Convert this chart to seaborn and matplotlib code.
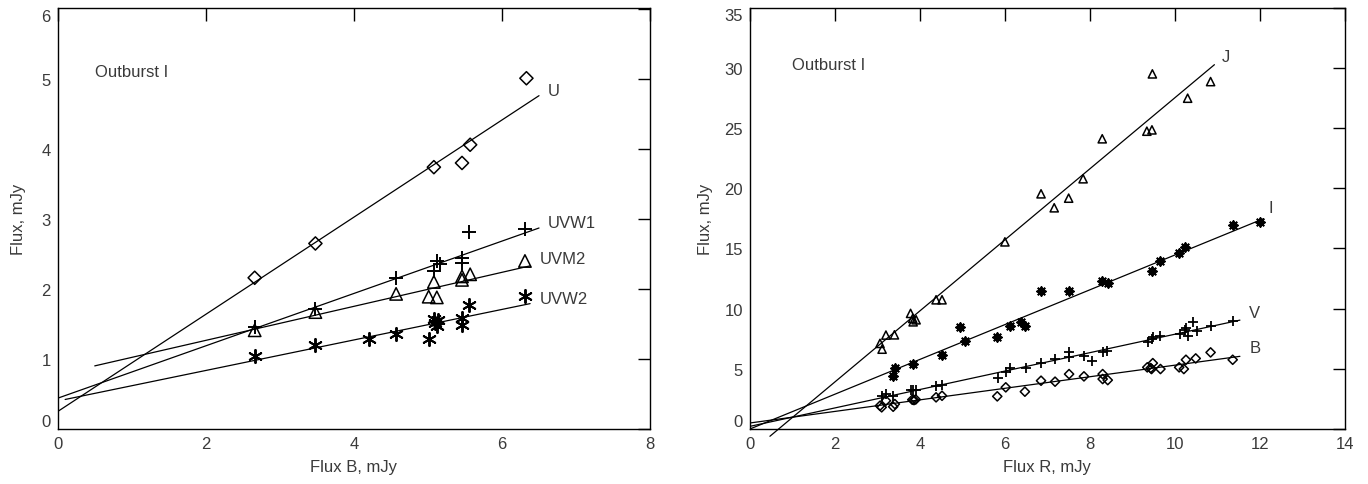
import numpy as np
import pandas as pd
import matplotlib
matplotlib.use("Agg")
import matplotlib.pyplot as plt
import seaborn as sns

# ---------------- data: left panel (vs Flux B) ----------------
u_x = [2.66, 3.48, 5.08, 5.46, 5.57, 6.33]
u_y = [2.16, 2.65, 3.74, 3.80, 4.06, 5.01]
uvw1_x = [2.66, 3.48, 4.57, 5.08, 5.12, 5.16, 5.46, 5.46, 5.56, 6.31]
uvw1_y = [1.46, 1.71, 2.16, 2.26, 2.40, 2.36, 2.44, 2.37, 2.82, 2.85]
uvm2_x = [2.66, 3.48, 4.57, 5.01, 5.08, 5.12, 5.46, 5.46, 5.57, 6.31]
uvm2_y = [1.41, 1.67, 1.93, 1.89, 2.10, 1.88, 2.13, 2.18, 2.21, 2.40]
uvw2_x = [2.66, 3.48, 4.21, 4.57, 5.02, 5.08, 5.10, 5.12, 5.14, 5.46, 5.46, 5.56, 6.31]
uvw2_y = [1.04, 1.20, 1.28, 1.36, 1.28, 1.57, 1.52, 1.47, 1.55, 1.58, 1.49, 1.77, 1.90]

# fitted lines: (x start, x end, intercept, slope)
left_fit_bands = ["U", "UVW1", "UVM2", "UVW2"]
left_fit_x0 = [0.0, 0.0, 0.5, 0.1]
left_fit_x1 = [6.5, 6.5, 6.38, 6.38]
left_fit_a = [0.25, 0.44, 0.78, 0.40]
left_fit_b = [0.694, 0.374, 0.243, 0.218]

# ---------------- data: right panel (vs Flux R) ----------------
j_x = [3.06, 3.11, 3.20, 3.40, 3.78, 3.83, 3.84, 3.91, 4.38, 4.52, 6.00, 6.85, 7.16,
       7.50, 7.84, 8.29, 9.34, 9.46, 9.47, 10.30, 10.84]
j_y = [7.11, 6.63, 7.80, 7.82, 9.60, 9.18, 8.90, 9.07, 10.73, 10.73, 15.54, 19.53, 18.37,
       19.17, 20.78, 24.10, 24.73, 24.84, 29.49, 27.47, 28.85]
i_x = [3.36, 3.41, 3.83, 4.52, 4.94, 5.06, 5.82, 6.12, 6.37, 6.47, 6.85, 7.51, 8.29,
       8.42, 9.45, 9.66, 10.09, 10.23, 11.36, 12.01]
i_y = [4.42, 5.03, 5.39, 6.14, 8.43, 7.33, 7.60, 8.52, 8.90, 8.52, 11.45, 11.45, 12.30,
       12.14, 13.10, 13.99, 14.63, 15.10, 16.90, 17.23]
v_x = [3.10, 3.20, 3.37, 3.78, 3.84, 3.91, 4.38, 4.51, 5.84, 6.02, 6.13, 6.49, 6.85,
       7.18, 7.51, 7.51, 7.86, 8.04, 8.30, 8.41, 9.37, 9.45, 9.48, 9.66, 10.12, 10.24,
       10.27, 10.31, 10.43, 10.51, 10.85, 11.36]
v_y = [2.76, 2.90, 2.71, 3.23, 3.23, 3.23, 3.54, 3.65, 4.26, 4.75, 5.03, 5.03, 5.45,
       5.81, 6.41, 6.00, 6.08, 5.67, 6.41, 6.50, 7.24, 7.46, 7.60, 7.69, 7.88, 8.24,
       8.40, 7.74, 8.85, 8.15, 8.52, 8.93]
b_x = [3.06, 3.10, 3.20, 3.37, 3.41, 3.82, 3.86, 3.90, 4.38, 4.52, 5.82, 6.02, 6.47,
       6.85, 7.18, 7.51, 7.86, 8.30, 8.30, 8.42, 9.35, 9.43, 9.45, 9.48, 9.66, 10.10,
       10.21, 10.26, 10.49, 10.84, 11.36]
b_y = [1.93, 1.80, 2.35, 1.85, 2.07, 2.43, 2.40, 2.45, 2.63, 2.76, 2.71, 3.46, 3.10,
       4.01, 3.93, 4.56, 4.37, 4.56, 4.15, 4.06, 5.12, 5.06, 4.98, 5.47, 4.98, 5.12,
       4.98, 5.75, 5.86, 6.36, 5.75]

right_fit_bands = ["J", "I", "V", "B"]
right_fit_x0 = [0.47, 0.0, 0.0, 0.0]
right_fit_x1 = [10.93, 12.09, 11.53, 11.53]
right_fit_a = [-1.99, 0.0, 0.22, 0.50]
right_fit_b = [2.95, 1.445, 0.765, 0.48]

# ---------------- style ----------------
sns.set_theme(style="white")
plt.rcParams["font.family"] = ["Liberation Sans", "DejaVu Sans"]
TXT = "#3a3a3a"

fig = plt.figure(figsize=(13.68, 4.85), dpi=100)
axL = fig.add_axes([0.0422, 0.1134, 0.4330, 0.8690])
axR = fig.add_axes([0.5482, 0.1134, 0.4349, 0.8690])

asterisk = (6, 2, 0)


def scatter(ax, xs, ys, marker, size, filled=False, lw=1.1):
    df = pd.DataFrame({"x": xs, "y": ys})
    if filled:
        sns.scatterplot(data=df, x="x", y="y", ax=ax, marker=marker, s=size,
                        color="black", linewidth=lw, legend=False, zorder=3)
    else:
        sns.scatterplot(data=df, x="x", y="y", ax=ax, marker=marker, s=size,
                        facecolor="none", edgecolor="black", linewidth=lw,
                        legend=False, zorder=3)


def fitlines(ax, bands, x0s, x1s, aa, bb, noclip=()):
    for band, x0, x1, a, b in zip(bands, x0s, x1s, aa, bb):
        xs = np.array([x0, x1])
        df = pd.DataFrame({"x": xs, "y": a + b * xs})
        sns.lineplot(data=df, x="x", y="y", ax=ax, color="black", linewidth=0.9,
                     legend=False, zorder=2)
        if band in noclip:
            ax.lines[-1].set_clip_on(False)


# left panel
fitlines(axL, left_fit_bands, left_fit_x0, left_fit_x1, left_fit_a, left_fit_b)
scatter(axL, u_x, u_y, "D", 45)
scatter(axL, uvw1_x, uvw1_y, "+", 110, filled=True, lw=1.4)
scatter(axL, uvm2_x, uvm2_y, "^", 80)
scatter(axL, uvw2_x, uvw2_y, asterisk, 90, filled=True, lw=1.4)

# right panel
fitlines(axR, right_fit_bands, right_fit_x0, right_fit_x1, right_fit_a, right_fit_b,
         noclip=("J",))
scatter(axR, j_x, j_y, "^", 35)
scatter(axR, i_x, i_y, (8, 2, 0), 38, filled=True, lw=1.4)
scatter(axR, v_x, v_y, "+", 45, filled=True, lw=1.3)
scatter(axR, b_x, b_y, "D", 22)

# axes formatting
for ax, xl, yl, xt, yt, xlab in [
    (axL, (0, 8), (0, 6.02), np.arange(0, 9, 2), np.arange(0, 7, 1), "Flux B, mJy"),
    (axR, (0, 14), (0, 35.0), np.arange(0, 15, 2), np.arange(0, 36, 5), "Flux R, mJy"),
]:
    ax.set_xlim(*xl)
    ax.set_ylim(*yl)
    ax.set_xticks(xt)
    ax.set_yticks(yt)
    ax.set_xticklabels([str(int(t)) for t in xt])
    ax.set_yticklabels([str(int(t)) for t in yt])
    ax.set_xlabel(xlab, fontsize=12, color=TXT, labelpad=6)
    ax.set_ylabel("Flux, mJy", fontsize=12, color=TXT, labelpad=6)
    ax.tick_params(direction="in", length=9, width=1.0, top=True, right=True,
                   labelsize=12, labelcolor=TXT, color="black", pad=5)
    for sp in ax.spines.values():
        sp.set_visible(True)
        sp.set_color("black")
        sp.set_linewidth(1.0)
    ylabs = ax.get_yticklabels()
    ylabs[0].set_verticalalignment("bottom")
    ylabs[-1].set_verticalalignment("top")

axL.yaxis.labelpad = 11
axR.yaxis.labelpad = 8

# annotations
axL.text(0.5, 5.11, "Outburst I", fontsize=12, color=TXT, va="center")
axL.text(6.62, 4.83, "U", fontsize=12, color=TXT, va="center")
axL.text(6.62, 2.95, "UVW1", fontsize=12, color=TXT, va="center")
axL.text(6.51, 2.43, "UVM2", fontsize=12, color=TXT, va="center")
axL.text(6.51, 1.87, "UVW2", fontsize=12, color=TXT, va="center")

axR.text(1.0, 30.3, "Outburst I", fontsize=12, color=TXT, va="center")
axR.text(11.1, 30.9, "J", fontsize=12, color=TXT, va="center")
axR.text(12.2, 18.4, "I", fontsize=12, color=TXT, va="center")
axR.text(11.75, 9.68, "V", fontsize=12, color=TXT, va="center")
axR.text(11.75, 6.78, "B", fontsize=12, color=TXT, va="center")

fig.savefig("out.png", dpi=100)
